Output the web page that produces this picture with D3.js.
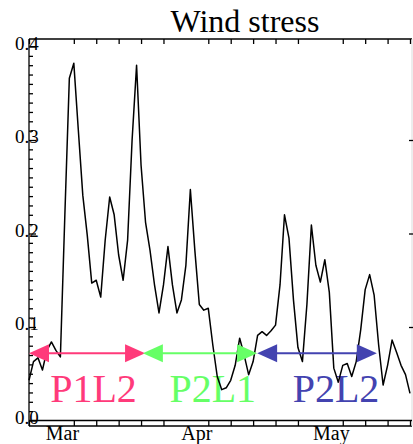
<!DOCTYPE html>
<html>
<head>
<meta charset="utf-8">
<script src="https://cdn.jsdelivr.net/npm/d3@7"></script>
<style>
  html, body { margin: 0; padding: 0; background: #fff; }
  svg { display: block; font-family: "Liberation Serif", "Times New Roman", serif; }
</style>
</head>
<body>
<div id="chart"></div>
<script>
// Daily wind stress (day 0 = Feb 24).
const stress = [
  0.043, 0.063, 0.067, 0.054, 0.075, 0.084, 0.075, 0.068, 0.220, 0.366,
  0.382, 0.311, 0.241, 0.198, 0.147, 0.150, 0.132, 0.193, 0.239, 0.220,
  0.177, 0.150, 0.193, 0.300, 0.380, 0.273, 0.212, 0.182, 0.145, 0.115,
  0.145, 0.186, 0.145, 0.115, 0.129, 0.166, 0.247, 0.182, 0.124, 0.118,
  0.120, 0.081, 0.047, 0.033, 0.035, 0.043, 0.059, 0.088, 0.070, 0.049,
  0.063, 0.091, 0.095, 0.091, 0.096, 0.102, 0.145, 0.220, 0.195, 0.129,
  0.078, 0.063, 0.124, 0.209, 0.166, 0.148, 0.172, 0.137, 0.056, 0.041,
  0.059, 0.061, 0.047, 0.063, 0.097, 0.140, 0.156, 0.134, 0.081, 0.038,
  0.059, 0.086, 0.073, 0.059, 0.049, 0.029
];

// Axis ticks
const yLabels = [0.0, 0.1, 0.2, 0.3, 0.4];
const yMinor = d3.range(0, 41).map(i => i / 100);
const xTickDays = [0, 10, 15, 20, 25, 30, 40, 45, 50, 55, 60, 70, 75, 80, 85];
const months = ["Mar", "Apr", "May"];
const monthDays = [5, 35, 65];

// Regime periods shown as double arrows
const periods = ["P1L2", "P2L1", "P2L2"];
const periodStart = [0, 25.4, 50.9];
const periodEnd = [25.9, 50.9, 77.6];
const periodLabelDay = [14.4, 41, 68.5];
const periodColors = ["#ff3a7a", "#66ff66", "#4343b0"];
const arrowLevel = 0.072;

const width = 413, height = 444;
const frame = { left: 29, right: 412, top: 39, bottom: 426 };

const x = d3.scaleLinear().domain([0, 85]).range([29, 410]);
const y = d3.scaleLinear().domain([0, 0.4]).range([420.5, 46.5]);

const svg = d3.select("#chart").append("svg")
  .attr("width", width)
  .attr("height", height);

// Title
svg.append("text")
  .attr("x", 245).attr("y", 32)
  .attr("text-anchor", "middle")
  .attr("font-size", 32)
  .text("Wind stress");

// Period labels (drawn under the data line)
svg.selectAll(".plabel")
  .data(periods)
  .join("text")
  .attr("class", "plabel")
  .attr("x", (d, i) => x(periodLabelDay[i]))
  .attr("y", 402)
  .attr("text-anchor", "middle")
  .attr("font-size", 40)
  .attr("fill", (d, i) => periodColors[i])
  .text(d => d);

// Frame
const g = svg.append("g").attr("stroke", "#000").attr("stroke-width", 1.3).attr("fill", "none");
g.append("line").attr("x1", frame.left).attr("x2", frame.right).attr("y1", frame.top).attr("y2", frame.top);
g.append("line").attr("x1", frame.left).attr("x2", frame.right).attr("y1", frame.bottom).attr("y2", frame.bottom);
g.append("line").attr("x1", frame.left).attr("x2", frame.left).attr("y1", frame.top).attr("y2", frame.bottom);
g.append("line").attr("x1", frame.right).attr("x2", frame.right).attr("y1", frame.top).attr("y2", frame.bottom)
  .attr("stroke", "#e4e4e4");
// zero line
g.append("line").attr("x1", frame.left).attr("x2", frame.right).attr("y1", y(0)).attr("y2", y(0));

// Left axis ticks (inward), minor every 0.01
const leftAxis = svg.append("g")
  .attr("transform", `translate(${frame.left},0)`)
  .call(d3.axisRight(y).tickValues(yMinor).tickSize(4).tickFormat(""));
leftAxis.select(".domain").remove();
leftAxis.selectAll(".tick line")
  .attr("stroke-width", 1.3)
  .attr("x2", d => (Math.round(d * 100) % 10 === 0 ? 7 : 4));

// Right axis, only majors visible
const rightAxis = svg.append("g")
  .attr("transform", `translate(${frame.right + 1},0)`)
  .call(d3.axisLeft(y).tickValues([0.1, 0.2, 0.3]).tickSize(4).tickFormat(""));
rightAxis.select(".domain").remove();
rightAxis.selectAll(".tick line").attr("stroke-width", 1.3);

// Bottom and top x ticks, both pointing into the plot
const bottomAxis = svg.append("g")
  .attr("transform", `translate(0,${frame.bottom})`)
  .call(d3.axisTop(x).tickValues(xTickDays).tickSize(5).tickFormat(""));
bottomAxis.select(".domain").remove();
bottomAxis.selectAll(".tick line").attr("stroke-width", 1.3);

const topAxis = svg.append("g")
  .attr("transform", `translate(0,${frame.top})`)
  .call(d3.axisBottom(x).tickValues(xTickDays).tickSize(5).tickFormat(""));
topAxis.select(".domain").remove();
topAxis.selectAll(".tick line").attr("stroke-width", 1.3);

// Y labels (IDL-style, straddling the axis)
svg.selectAll(".ylabel")
  .data(yLabels)
  .join("text")
  .attr("class", "ylabel")
  .attr("x", 15)
  .attr("y", d => y(d) + 3)
  .attr("font-size", 19)
  .text(d => d.toFixed(1));

// Month labels
svg.selectAll(".mlabel")
  .data(months)
  .join("text")
  .attr("class", "mlabel")
  .attr("x", (d, i) => x(monthDays[i]) + 11)
  .attr("y", 440)
  .attr("text-anchor", "middle")
  .attr("font-size", 20)
  .text(d => d);

// Data line
const line = d3.line()
  .x((d, i) => x(i))
  .y(d => y(d));

svg.append("path")
  .datum(stress)
  .attr("d", line)
  .attr("fill", "none")
  .attr("stroke", "#000")
  .attr("stroke-width", 1.5)
  .attr("stroke-linejoin", "round");

// Double arrows for the periods
const headLen = 20, headHalf = 9;
const ay = y(arrowLevel);
periods.forEach((p, i) => {
  const x0 = x(periodStart[i]), x1 = x(periodEnd[i]);
  const col = periodColors[i];
  svg.append("line")
    .attr("x1", x0 + headLen - 2).attr("x2", x1 - headLen + 2)
    .attr("y1", ay).attr("y2", ay)
    .attr("stroke", col).attr("stroke-width", 2);
  svg.append("path")
    .attr("d", `M${x0},${ay}L${x0 + headLen},${ay - headHalf}L${x0 + headLen},${ay + headHalf}Z`)
    .attr("fill", col);
  svg.append("path")
    .attr("d", `M${x1},${ay}L${x1 - headLen},${ay - headHalf}L${x1 - headLen},${ay + headHalf}Z`)
    .attr("fill", col);
});
</script>
</body>
</html>
